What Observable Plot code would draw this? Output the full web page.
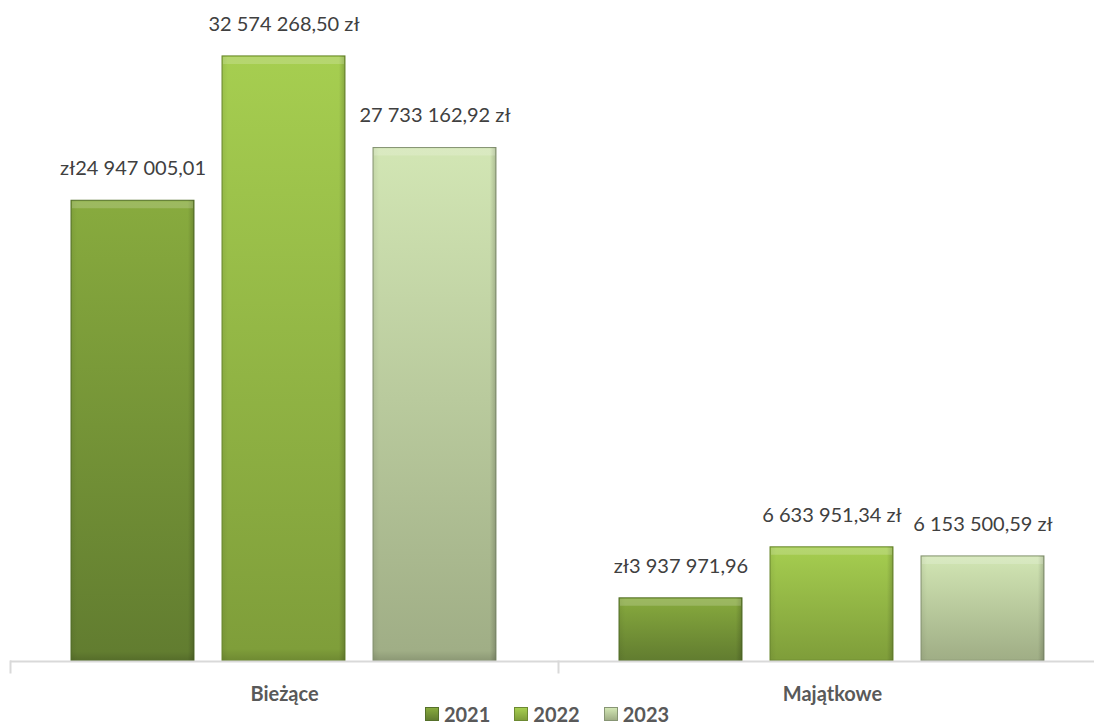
<!DOCTYPE html>
<html>
<head>
<meta charset="utf-8">
<script src="https://cdn.jsdelivr.net/npm/d3@7"></script>
<script src="https://cdn.jsdelivr.net/npm/@observablehq/plot@0.6"></script>
<style>
  html, body { margin: 0; padding: 0; background: #fff; overflow: hidden; }
  #wrap { position: relative; width: 1094px; height: 724px; }
  #legend { position: absolute; left: 0; top: 704px; width: 1094px; display: flex; justify-content: center; height: 20px; line-height: 20px; align-items: center;
            font-family: Lato, "Open Sans", sans-serif; font-weight: bold; font-size: 20px; color: #595959; }
  #legend .item { display: flex; align-items: center; margin: 0 12px; }
  #legend .sw { width: 14px; height: 14px; display: inline-block; margin-right: 5px; box-sizing: border-box; }
</style>
</head>
<body>
<svg width="0" height="0" style="position:absolute">
  <defs id="grads"></defs>
</svg>
<div id="wrap">
  <div id="chart"></div>
  <div id="legend"></div>
</div>
<script>
// ---- data ----
const categories = ["Bieżące", "Majątkowe"];
const years = ["2021", "2022", "2023"];
const values2021 = [24947005.01, 3937971.96];
const values2022 = [32574268.50, 6633951.34];
const values2023 = [27733162.92, 6153500.59];
const axisMin = 600000;
const axisMax = 35000000;

// ---- styles ----
const colorTop = {"2021": "#88ab3e", "2022": "#a6ce50", "2023": "#d2e6b4"};
const colorBottom = {"2021": "#627d30", "2022": "#7f9e3a", "2023": "#a0ae86"};
const colorStroke = {"2021": "#55702a", "2022": "#6c8931", "2023": "#879574"};

const seriesValues = [values2021, values2022, values2023];
const rows = [];
categories.forEach((c, ci) => years.forEach((y, yi) => rows.push({category: c, year: y, value: seriesValues[yi][ci]})));

const num = d3.formatLocale({decimal: ",", thousands: " ", grouping: [3], currency: ["", ""]}).format(",.2f");
const label = d => d.year === years[0] ? `zł${num(d.value)}` : `${num(d.value)} zł`;

// gradients
const defs = d3.select("#grads");
years.forEach(y => {
  const g = defs.append("linearGradient").attr("id", `grad-${y}`).attr("x1", 0).attr("y1", 0).attr("x2", 0).attr("y2", 1);
  g.append("stop").attr("offset", "0%").attr("stop-color", colorTop[y]);
  g.append("stop").attr("offset", "98%").attr("stop-color", colorBottom[y]);
  g.append("stop").attr("offset", "100%").attr("stop-color", d3.color(colorBottom[y]).darker(0.4));
});
const side = defs.append("linearGradient").attr("id", "grad-side").attr("x1", 0).attr("y1", 0).attr("x2", 1).attr("y2", 0);
[["0%", 0.06], ["5%", 0], ["95%", 0], ["100%", 0.18]].forEach(([o, a]) =>
  side.append("stop").attr("offset", o).attr("stop-color", "#000").attr("stop-opacity", a));

const chart = Plot.plot({
  width: 1094,
  height: 724,
  marginLeft: 10,
  marginRight: -12,
  marginTop: 10,
  marginBottom: 63,
  style: {fontFamily: "Lato, 'Open Sans', sans-serif", fontSize: "20px", color: "#404040", background: "#fff"},
  fx: {domain: categories, padding: 0, label: null},
  x: {domain: years, paddingInner: 0.184, paddingOuter: 0.395, axis: null},
  y: {domain: [axisMin, axisMax], clamp: true, axis: null},
  color: {type: "identity"},
  marks: [
    Plot.barY(rows, {
      fx: "category", x: "year", y: "value",
      fill: d => `url(#grad-${d.year})`,
      stroke: d => colorStroke[d.year],
      strokeWidth: 1
    }),
    Plot.barY(rows, {
      fx: "category", x: "year", y: "value",
      fill: "url(#grad-side)"
    }),
    Plot.tickY(rows, {
      fx: "category", x: "year", y: "value",
      stroke: "#ffffff", strokeOpacity: 0.18, strokeWidth: 7, dy: 4, inset: 1
    }),
    Plot.ruleY([axisMin], {stroke: "#d9d9d9", strokeWidth: 2}),
    Plot.frame({anchor: "left", stroke: "#d9d9d9", strokeWidth: 2, insetTop: 651, insetBottom: -11}),
    Plot.text(rows, {
      fx: "category", x: "year", y: "value",
      text: label, dy: -32, fontSize: 20, fill: "#404040"
    }),
    Plot.axisFx({anchor: "bottom", tickSize: 0, tickPadding: 25, fontSize: 20, fontWeight: "bold", fill: "#595959", label: null})
  ]
});
document.getElementById("chart").appendChild(chart);

// legend
const legend = d3.select("#legend");
years.forEach(y => {
  const it = legend.append("div").attr("class", "item");
  it.append("span").attr("class", "sw")
    .style("background", `linear-gradient(${colorTop[y]}, ${colorBottom[y]})`)
    .style("border", `1px solid ${colorStroke[y]}`);
  it.append("span").text(y);
});
</script>
</body>
</html>
